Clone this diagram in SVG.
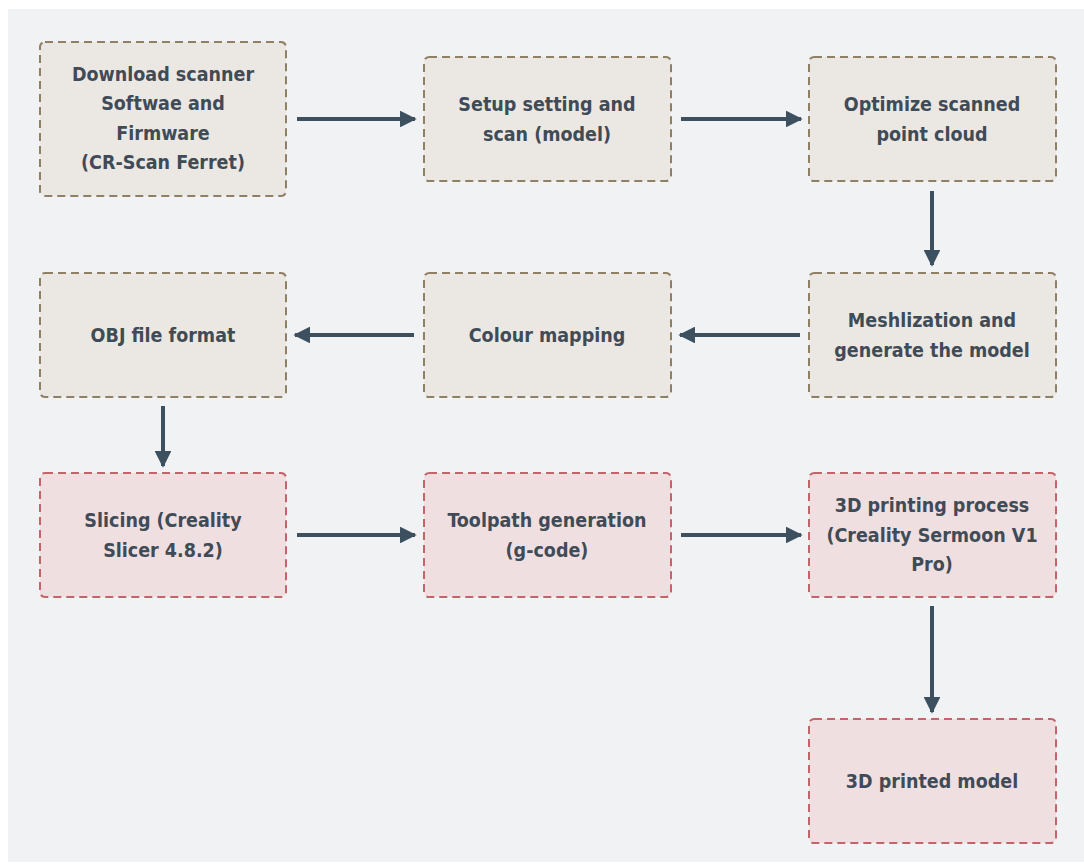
<svg xmlns="http://www.w3.org/2000/svg" width="1084" height="866" viewBox="0 0 1084 866">
<defs>
<style>
.bg{fill:#f1f2f4}
.n1{fill:#ebe7e2;stroke:#8f7f65;stroke-width:2;stroke-dasharray:8 5}
.n2{fill:#f0dfe0;stroke:#c2646a;stroke-width:2;stroke-dasharray:8 5}
.t{font-family:"DejaVu Sans Condensed","DejaVu Sans",sans-serif;font-weight:bold;font-size:19.5px;fill:#3f4b57;text-anchor:middle}
.c{stroke:#3d5060;stroke-width:4;fill:none}
</style>
<marker id="ah" viewBox="0 0 10 10" refX="9" refY="5" markerWidth="4.2" markerHeight="4.2" orient="auto" markerUnits="strokeWidth">
<path d="M0,0 L10,5 L0,10 z" fill="#3d5060"/>
</marker>
</defs>
<rect width="1084" height="866" fill="#ffffff"/>
<rect class="bg" x="8" y="9" width="1076" height="853"/>
<g id="connectors">
<line class="c" x1="297" y1="119" x2="415" y2="119" marker-end="url(#ah)"/>
<line class="c" x1="681" y1="119" x2="801" y2="119" marker-end="url(#ah)"/>
<line class="c" x1="932" y1="191" x2="932" y2="265" marker-end="url(#ah)"/>
<line class="c" x1="800" y1="335" x2="680" y2="335" marker-end="url(#ah)"/>
<line class="c" x1="414" y1="335" x2="295" y2="335" marker-end="url(#ah)"/>
<line class="c" x1="163" y1="406" x2="163" y2="466" marker-end="url(#ah)"/>
<line class="c" x1="297" y1="535" x2="415" y2="535" marker-end="url(#ah)"/>
<line class="c" x1="681" y1="535" x2="801" y2="535" marker-end="url(#ah)"/>
<line class="c" x1="932" y1="606" x2="932" y2="712" marker-end="url(#ah)"/>
</g>
<g id="n-download">
<rect class="n1" x="40" y="42" width="246" height="154" rx="5"/>
<text class="t" x="163" y="81">Download scanner</text>
<text class="t" x="163" y="110">Softwae and</text>
<text class="t" x="163" y="140">Firmware</text>
<text class="t" x="163" y="169">(CR-Scan Ferret)</text>
</g>
<g id="n-setup">
<rect class="n1" x="424" y="57" width="247" height="124" rx="5"/>
<text class="t" x="547" y="111">Setup setting and</text>
<text class="t" x="547" y="141">scan (model)</text>
</g>
<g id="n-optimize">
<rect class="n1" x="809" y="57" width="247" height="124" rx="5"/>
<text class="t" x="932" y="111">Optimize scanned</text>
<text class="t" x="932" y="141">point cloud</text>
</g>
<g id="n-mesh">
<rect class="n1" x="809" y="273" width="247" height="124" rx="5"/>
<text class="t" x="932" y="327">Meshlization and</text>
<text class="t" x="932" y="357">generate the model</text>
</g>
<g id="n-colour">
<rect class="n1" x="424" y="273" width="247" height="124" rx="5"/>
<text class="t" x="547" y="342">Colour mapping</text>
</g>
<g id="n-obj">
<rect class="n1" x="40" y="273" width="246" height="124" rx="5"/>
<text class="t" x="163" y="342">OBJ file format</text>
</g>
<g id="n-slicing">
<rect class="n2" x="40" y="473" width="246" height="124" rx="5"/>
<text class="t" x="163" y="527">Slicing (Creality</text>
<text class="t" x="163" y="557">Slicer 4.8.2)</text>
</g>
<g id="n-toolpath">
<rect class="n2" x="424" y="473" width="247" height="124" rx="5"/>
<text class="t" x="547" y="527">Toolpath generation</text>
<text class="t" x="547" y="557">(g-code)</text>
</g>
<g id="n-printing">
<rect class="n2" x="809" y="473" width="247" height="124" rx="5"/>
<text class="t" x="932" y="512">3D printing process</text>
<text class="t" x="932" y="542">(Creality Sermoon V1</text>
<text class="t" x="932" y="571">Pro)</text>
</g>
<g id="n-printed">
<rect class="n2" x="809" y="719" width="247" height="124" rx="5"/>
<text class="t" x="932" y="788">3D printed model</text>
</g>
</svg>
